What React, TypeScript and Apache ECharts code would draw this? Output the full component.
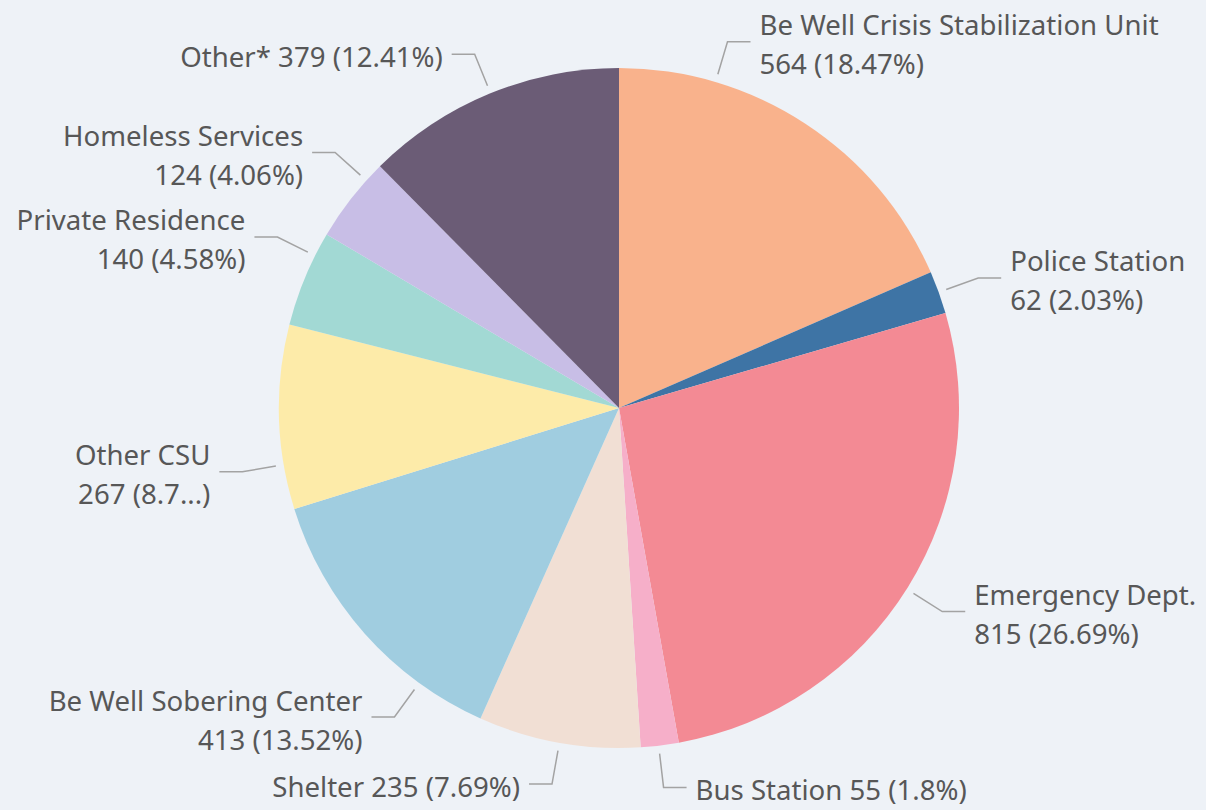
import React, { useEffect, useRef } from "react";
import * as echarts from "echarts";

const categories = [
  "Be Well Crisis Stabilization Unit",
  "Police Station",
  "Emergency Dept.",
  "Bus Station",
  "Shelter",
  "Be Well Sobering Center",
  "Other CSU",
  "Private Residence",
  "Homeless Services",
  "Other*",
];
const values = [564, 62, 815, 55, 235, 413, 267, 140, 124, 379];
const colors = [
  "#F9B28C",
  "#3E74A5",
  "#F38A94",
  "#F6AFC9",
  "#F1DFD4",
  "#A0CDE0",
  "#FDEBA9",
  "#A2D9D4",
  "#C8BEE6",
  "#6B5C76",
];
// label text style: single line (name and value on one line)
const singleLine = [false, false, false, true, true, false, false, false, false, true];
// labels whose percentage is cut short in the original
const truncatedPct = [false, false, false, false, false, false, true, false, false, false];

// label layout: leader line anchor angle on the rim (clockwise from 12 o'clock)
const anchorDeg = [16.5, 70.1, 122.2, 173.3, 190.1, 216, 260.4, 296.6, 312, 337.8];

const CX = 619;
const CY = 408;
const R = 340;
const LEAD_GAP = 8; // gap between rim and leader start
const LEAD_LEN = 34;
const LEAD_LEN2 = 23;
const TEXT_GAP = 9;

export default function App() {
  const ref = useRef<HTMLDivElement>(null);
  useEffect(() => {
    if (!ref.current) return;
    const chart = echarts.init(ref.current, null, { renderer: "svg" });
    const total = values.reduce((a, b) => a + b, 0);
    const data = categories.map((name, i) => ({
      name,
      value: values[i],
      itemStyle: { color: colors[i] },
    }));
    chart.setOption({
      animation: false,
      backgroundColor: "#EEF2F7",
      textStyle: { fontFamily: "'Noto Sans', 'Open Sans', sans-serif" },
      series: [
        {
          type: "pie",
          center: [CX, CY],
          radius: R,
          startAngle: 90,
          clockwise: true,
          data,
          itemStyle: { borderWidth: 0 },
          label: {
            show: true,
            position: "outside",
            color: "#575757",
            fontSize: 27.6,
            lineHeight: 39,
            overflow: "none",
            fontFamily: "'Noto Sans', sans-serif",
            formatter: (p: any) => {
              const idx = p.dataIndex;
              let pct = String(parseFloat(((p.value / total) * 100).toFixed(2)));
              if (truncatedPct[idx]) pct = pct.slice(0, 3) + "...";
              else pct = pct + "%";
              return singleLine[idx]
                ? `${p.name} ${p.value} (${pct})`
                : `${p.name}\n${p.value} (${pct})`;
            },
          },
          labelLine: {
            show: true,
            length: 34,
            length2: 23,
            lineStyle: { color: "#A3A3A3", width: 1.5 },
          },
          labelLayout: (params: any) => {
            const i = params.dataIndex;
            const a = (anchorDeg[i] * Math.PI) / 180;
            const s = Math.sin(a);
            const c = Math.cos(a);
            const sx = CX + (R + LEAD_GAP) * s;
            const sy = CY - (R + LEAD_GAP) * c;
            const bx = sx + LEAD_LEN * s;
            const by = sy - LEAD_LEN * c;
            const right = s >= 0;
            const ex = bx + (right ? LEAD_LEN2 : -LEAD_LEN2);
            return {
              x: ex + (right ? TEXT_GAP : -TEXT_GAP),
              y: by + 2,
              align: right ? "left" : "right",
              verticalAlign: "middle",
              labelLinePoints: [
                [sx, sy],
                [bx, by],
                [ex, by],
              ],
            };
          },
        },
      ],
    });
    return () => chart.dispose();
  }, []);
  return (
    <div
      ref={ref}
      style={{ position: "fixed", left: 0, top: 0, width: 1206, height: 810 }}
    />
  );
}
